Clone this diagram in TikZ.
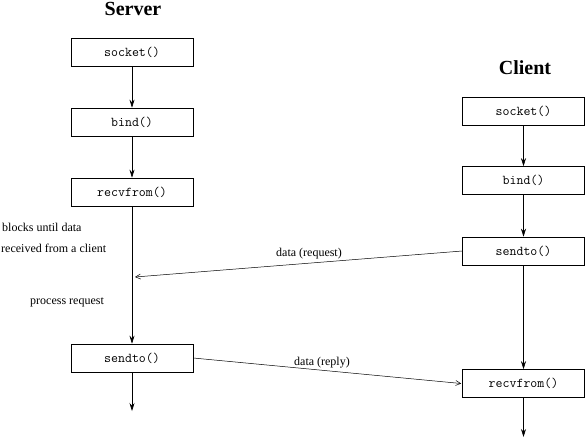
\documentclass[tikz,border=0pt]{standalone}
\usepackage{fontspec}
\setmainfont{Liberation Serif}
\usetikzlibrary{arrows.meta}
\begin{document}
\begin{tikzpicture}[x=1pt,y=-1pt,
  fn/.style={draw,line width=0.6pt,minimum width=122pt,minimum height=28pt,inner sep=0pt,font=\fontsize{13.5}{13.5}\selectfont\ttfamily},
  title/.style={font=\fontsize{20}{20}\selectfont\bfseries},
  lbl/.style={font=\fontsize{12}{12}\selectfont,inner sep=0pt},
  flow/.style={line width=0.6pt,-{Stealth[length=8pt,width=5pt]}},
  msg/.style={line width=0.5pt,-{Straight Barb[length=5pt,width=5pt]}}]
\useasboundingbox (0,0) rectangle (586,437);
\node[title] (st) at (133,9) {Server};
\node[title] (ct) at (525,68) {Client};
\node[fn] (ssock) at (132,52) {socket()};
\node[fn] (sbind) at (132,122) {bind()};
\node[fn] (srecv) at (132,192) {recvfrom()};
\node[fn] (ssend) at (132,358) {sendto()};
\node[fn] (csock) at (523.5,111) {socket()};
\node[fn] (cbind) at (523.5,180.5) {bind()};
\node[fn] (csend) at (523.5,251) {sendto()};
\node[fn] (crecv) at (523.5,383.5) {recvfrom()};
\coordinate (send) at (132,411);
\coordinate (cend) at (523.5,437);
\coordinate (sin) at (135,277);
\draw[flow] (ssock) -- (sbind);
\draw[flow] (sbind) -- (srecv);
\draw[flow] (srecv) -- (ssend);
\draw[flow] (ssend) -- (send);
\draw[flow] (csock) -- (cbind);
\draw[flow] (cbind) -- (csend);
\draw[flow] (csend) -- (crecv);
\draw[flow] (crecv) -- (cend);
\draw[msg] (csend.west) -- (sin);
\draw[msg] (ssend.east) -- ([xshift=-1pt]crecv.west);
\node[lbl,anchor=west] (b1) at (2,227) {blocks until data};
\node[lbl,anchor=west] (b2) at (1,248) {received from a client};
\node[lbl,anchor=west] (pr) at (30,302) {process request};
\node[lbl] (dq) at (309,254) {data (request)};
\node[lbl] (dr) at (322,363) {data (reply)};
\end{tikzpicture}
\end{document}
